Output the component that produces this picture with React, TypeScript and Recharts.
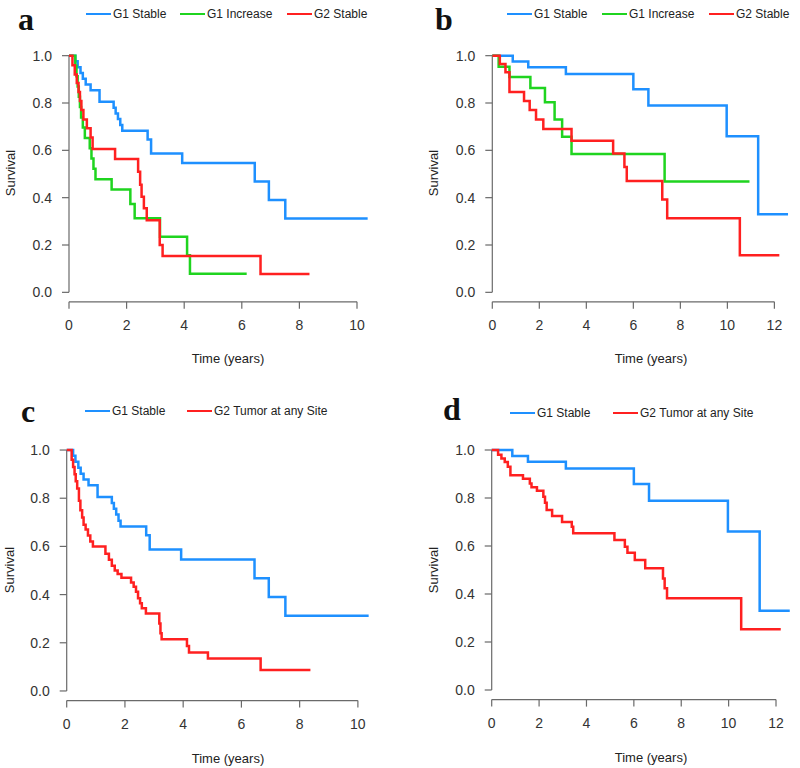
import React from 'react';
import { LineChart, Line, XAxis, YAxis, ReferenceLine } from 'recharts';

// Kaplan-Meier step data: time (years) and survival
const g1StableT = [0, 0.22, 0.3, 0.4, 0.48, 0.58, 0.75, 1.06, 1.55, 1.62, 1.7, 1.78, 1.85, 2.73, 2.85, 3.93, 6.45, 6.94, 7.51, 10.37];
const g1StableS = [1, 0.976, 0.951, 0.927, 0.902, 0.878, 0.854, 0.805, 0.78, 0.756, 0.732, 0.707, 0.683, 0.646, 0.587, 0.546, 0.468, 0.39, 0.312, 0.312];

const aG1IncT = [0, 0.22, 0.26, 0.3, 0.34, 0.38, 0.42, 0.48, 0.55, 0.72, 0.78, 0.85, 0.92, 1.48, 2.13, 2.28, 3.16, 4.1, 4.2, 6.17];
const aG1IncS = [1, 0.957, 0.913, 0.87, 0.826, 0.783, 0.739, 0.696, 0.652, 0.609, 0.565, 0.522, 0.478, 0.435, 0.373, 0.313, 0.235, 0.157, 0.078, 0.078];

const aG2StableT = [0, 0.12, 0.2, 0.27, 0.33, 0.38, 0.43, 0.5, 0.62, 0.75, 0.82, 1.6, 2.4, 2.47, 2.52, 2.6, 2.7, 3.15, 3.25, 6.65, 8.35];
const aG2StableS = [1, 0.96, 0.92, 0.885, 0.846, 0.808, 0.77, 0.73, 0.693, 0.654, 0.606, 0.563, 0.51, 0.455, 0.404, 0.355, 0.305, 0.2, 0.153, 0.077, 0.077];

const bG1StableT = [0, 0.87, 1.53, 3.13, 6.0, 6.64, 9.97, 11.31, 12.58];
const bG1StableS = [1, 0.975, 0.951, 0.923, 0.858, 0.789, 0.66, 0.33, 0.33];

const bG1IncT = [0, 0.27, 0.73, 1.62, 2.24, 2.65, 2.97, 3.37, 7.33, 10.94];
const bG1IncS = [1, 0.953, 0.91, 0.863, 0.803, 0.73, 0.657, 0.585, 0.468, 0.468];

const bG2StableT = [0, 0.32, 0.56, 0.73, 1.35, 1.59, 1.86, 2.17, 3.37, 5.14, 5.62, 5.72, 7.23, 7.44, 10.53, 12.21];
const bG2StableS = [1, 0.965, 0.93, 0.846, 0.808, 0.77, 0.73, 0.69, 0.64, 0.587, 0.53, 0.47, 0.392, 0.313, 0.157, 0.157];

const cG2TumorT = [0, 0.17, 0.22, 0.27, 0.31, 0.36, 0.42, 0.47, 0.53, 0.58, 0.65, 0.73, 0.81, 0.9, 1.33, 1.45, 1.55, 1.65, 1.75, 1.88, 2.21, 2.3, 2.38, 2.45, 2.52, 2.58, 2.72, 3.18, 3.22, 3.26, 4.13, 4.2, 4.85, 6.66, 8.37];
const cG2TumorS = [1, 0.96, 0.93, 0.9, 0.87, 0.84, 0.79, 0.75, 0.72, 0.69, 0.67, 0.645, 0.62, 0.6, 0.57, 0.545, 0.52, 0.5, 0.485, 0.47, 0.45, 0.433, 0.412, 0.385, 0.364, 0.343, 0.322, 0.28, 0.24, 0.215, 0.187, 0.16, 0.135, 0.087, 0.087];

const dG2TumorT = [0, 0.27, 0.41, 0.55, 0.68, 0.79, 1.32, 1.61, 1.68, 1.91, 2.18, 2.25, 2.32, 2.55, 2.97, 3.38, 3.44, 5.18, 5.62, 5.73, 6.04, 6.48, 7.23, 7.3, 7.4, 10.53, 12.2];
const dG2TumorS = [1, 0.98, 0.965, 0.95, 0.93, 0.895, 0.88, 0.86, 0.845, 0.83, 0.805, 0.78, 0.75, 0.725, 0.7, 0.68, 0.653, 0.625, 0.597, 0.572, 0.542, 0.507, 0.465, 0.424, 0.382, 0.253, 0.253];

const survivalTicks = [0, 0.2, 0.4, 0.6, 0.8, 1];
const ticks10 = [0, 2, 4, 6, 8, 10];
const ticks12 = [0, 2, 4, 6, 8, 10, 12];

const BLUE = '#1e90ff';
const GREEN = '#1fd41f';
const RED = '#ff2020';
const AXIS = '#6a6a6a';
const SANS = '"Liberation Sans", Arial, sans-serif';

const zip = (t: number[], s: number[]) => t.map((v, i) => ({ t: v, s: s[i] }));

type Series = { name: string; color: string; data: { t: number; s: number }[] };

type Panel = {
  letter: string;
  x: number;
  y: number;
  margin: { top: number; right: number; bottom: number; left: number };
  xMax: number;
  ticks: number[];
  series: Series[];
  legendY: number;
  legendX: number[];
  letterX: number;
  letterTop: number;
  xTitle: [number, number];
  yTitle: [number, number];
};

const panels: Panel[] = [
  {
    letter: 'a', x: 0, y: 0,
    margin: { top: 46.2, right: 14.2, bottom: 52.2, left: 29 },
    xMax: 10.8, ticks: ticks10,
    series: [
      { name: 'G1 Stable', color: BLUE, data: zip(g1StableT, g1StableS) },
      { name: 'G1 Increase', color: GREEN, data: zip(aG1IncT, aG1IncS) },
      { name: 'G2 Stable', color: RED, data: zip(aG2StableT, aG2StableS) },
    ],
    legendY: 14, legendX: [86, 180, 287], letterX: 18, letterTop: 3,
    xTitle: [228, 358], yTitle: [10, 173],
  },
  {
    letter: 'b', x: 400, y: 0,
    margin: { top: 46.2, right: 2.1, bottom: 52.2, left: 52.3 },
    xMax: 12.6, ticks: ticks12,
    series: [
      { name: 'G1 Stable', color: BLUE, data: zip(bG1StableT, bG1StableS) },
      { name: 'G1 Increase', color: GREEN, data: zip(bG1IncT, bG1IncS) },
      { name: 'G2 Stable', color: RED, data: zip(bG2StableT, bG2StableS) },
    ],
    legendY: 14, legendX: [107, 202, 309], letterX: 35, letterTop: 3,
    xTitle: [251, 358], yTitle: [33, 173],
  },
  {
    letter: 'c', x: 0, y: 384,
    margin: { top: 56.4, right: 13, bottom: 37.4, left: 26.7 },
    xMax: 10.8, ticks: ticks10,
    series: [
      { name: 'G1 Stable', color: BLUE, data: zip(g1StableT, g1StableS) },
      { name: 'G2 Tumor at any Site', color: RED, data: zip(cG2TumorT, cG2TumorS) },
    ],
    legendY: 27, legendX: [85, 187], letterX: 21, letterTop: 11,
    xTitle: [228, 374], yTitle: [9, 186],
  },
  {
    letter: 'd', x: 400, y: 384,
    margin: { top: 56.4, right: 0.3, bottom: 38.4, left: 51.7 },
    xMax: 12.6, ticks: ticks12,
    series: [
      { name: 'G1 Stable', color: BLUE, data: zip(bG1StableT, bG1StableS) },
      { name: 'G2 Tumor at any Site', color: RED, data: zip(dG2TumorT, dG2TumorS) },
    ],
    legendY: 29, legendX: [110, 213], letterX: 43, letterTop: 9,
    xTitle: [251, 373], yTitle: [33, 186],
  },
];

const W = 400;
const H = 384;

function KMPanel({ p }: { p: Panel }) {
  const lastTick = p.ticks[p.ticks.length - 1];
  return (
    <div style={{ position: 'absolute', left: p.x, top: p.y, width: W, height: H }}>
      <LineChart width={W} height={H} margin={p.margin}>
        <XAxis
          type="number"
          dataKey="t"
          domain={[0, p.xMax]}
          ticks={p.ticks}
          allowDecimals={false}
          height={30}
          axisLine={false}
          tickLine={{ stroke: AXIS, strokeWidth: 1.2 }}
          tickSize={7}
          tickMargin={11}
          tick={{ fontSize: 14, fill: '#333', fontFamily: SANS }}
        />
        <YAxis
          type="number"
          dataKey="s"
          domain={[-0.04, 1.04]}
          ticks={survivalTicks}
          width={40}
          axisLine={false}
          tickLine={{ stroke: AXIS, strokeWidth: 1.2 }}
          tickSize={7}
          tickMargin={10}
          tickFormatter={(v: number) => v.toFixed(1)}
          tick={{ fontSize: 14, fill: '#333', fontFamily: SANS }}
        />
        <ReferenceLine
          segment={[{ x: 0, y: -0.04 }, { x: lastTick, y: -0.04 }]}
          stroke={AXIS}
          strokeWidth={1.2}
          ifOverflow="visible"
        />
        <ReferenceLine
          segment={[{ x: 0, y: 0 }, { x: 0, y: 1 }]}
          stroke={AXIS}
          strokeWidth={1.2}
          ifOverflow="visible"
        />
        {p.series.map((s) => (
          <Line
            key={s.name}
            name={s.name}
            data={s.data}
            dataKey="s"
            type="stepAfter"
            stroke={s.color}
            strokeWidth={2.5}
            dot={false}
            activeDot={false}
            isAnimationActive={false}
          />
        ))}
      </LineChart>

      {/* legend */}
      {p.series.map((s, i) => (
        <div
          key={s.name}
          style={{
            position: 'absolute',
            left: p.legendX[i],
            top: p.legendY - 8,
            height: 16,
            display: 'flex',
            alignItems: 'center',
            fontFamily: SANS,
            fontSize: 12,
            color: '#222',
            whiteSpace: 'nowrap',
          }}
        >
          <span style={{ display: 'inline-block', width: 25, height: 2.5, background: s.color, marginRight: 2 }} />
          {s.name}
        </div>
      ))}

      {/* panel letter */}
      <div
        style={{
          position: 'absolute',
          left: p.letterX,
          top: p.letterTop,
          fontFamily: '"Liberation Serif", "DejaVu Serif", serif',
          fontWeight: 'bold',
          fontSize: 32,
          lineHeight: '32px',
          color: '#111',
        }}
      >
        {p.letter}
      </div>

      {/* axis titles */}
      <div
        style={{
          position: 'absolute',
          left: p.xTitle[0],
          top: p.xTitle[1],
          transform: 'translate(-50%, -50%)',
          fontFamily: SANS,
          fontSize: 13,
          color: '#222',
          whiteSpace: 'nowrap',
        }}
      >
        Time (years)
      </div>
      <div
        style={{
          position: 'absolute',
          left: p.yTitle[0],
          top: p.yTitle[1],
          transform: 'translate(-50%, -50%) rotate(-90deg)',
          fontFamily: SANS,
          fontSize: 13,
          color: '#222',
          whiteSpace: 'nowrap',
        }}
      >
        Survival
      </div>
    </div>
  );
}

export default function App() {
  return (
    <div style={{ position: 'absolute', left: 0, top: 0, width: 800, height: 768, background: '#fff', overflow: 'hidden' }}>
      {panels.map((p) => (
        <KMPanel key={p.letter} p={p} />
      ))}
    </div>
  );
}
